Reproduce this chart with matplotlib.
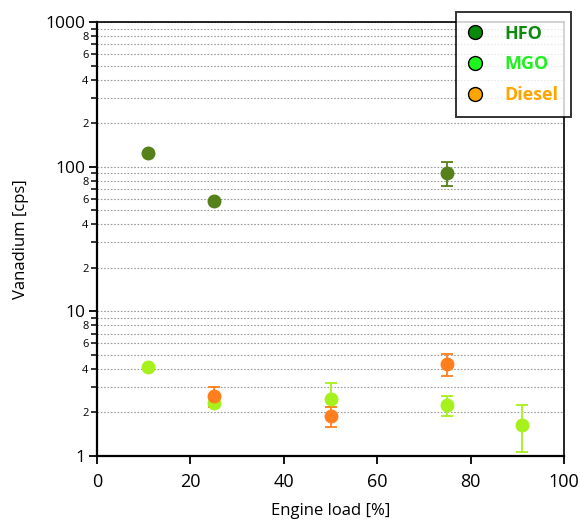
import numpy as np
import matplotlib
matplotlib.use("Agg")
import matplotlib.pyplot as plt
from matplotlib.ticker import LogLocator, FuncFormatter
from matplotlib.lines import Line2D

plt.rcParams['font.family'] = ['Open Sans', 'DejaVu Sans']

# data
hfo_load = [11, 25, 75]
hfo_val = [125, 58, 91]
hfo_lo = [0, 0, 18]
hfo_hi = [0, 0, 17]

mgo_load = [11, 25, 50, 75, 91]
mgo_val = [4.1, 2.34, 2.48, 2.25, 1.64]
mgo_lo = [0, 0.15, 0.3, 0.36, 0.58]
mgo_hi = [0, 0.15, 0.71, 0.36, 0.6]

diesel_load = [25, 50, 75]
diesel_val = [2.59, 1.88, 4.3]
diesel_lo = [0.41, 0.29, 0.71]
diesel_hi = [0.41, 0.29, 0.75]

series = [
    ("HFO", hfo_load, hfo_val, hfo_lo, hfo_hi, "#55801a", "#128a12"),
    ("MGO", mgo_load, mgo_val, mgo_lo, mgo_hi, "#a6f01c", "#1ff01f"),
    ("Diesel", diesel_load, diesel_val, diesel_lo, diesel_hi, "#ff7f1e", "#ffa500"),
]
legend_marker = {"HFO": "#0a8a0a", "MGO": "#1ef51e", "Diesel": "#ffa500"}

fig = plt.figure(figsize=(5.8, 5.21), dpi=100)
ax = fig.add_axes([97 / 580, 1 - 456 / 521, (564 - 97) / 580, (456 - 22) / 521])

for name, x, y, lo, hi, c, tc in series:
    ax.errorbar(x, y, yerr=[lo, hi], fmt="o", color=c, ms=9, mec=c,
                elinewidth=1.3, capsize=4.5, capthick=1.3, zorder=3)

ax.set_yscale("log")
ax.set_xlim(0, 100)
ax.set_ylim(1, 1000)
ax.set_xticks(np.arange(0, 101, 20))
ax.yaxis.set_major_locator(LogLocator(base=10))
ax.yaxis.set_minor_locator(LogLocator(base=10, subs=np.arange(2, 10)))


def minor_fmt(v, pos):
    m = round(v / 10 ** np.floor(np.log10(v) + 1e-9))
    return str(int(m)) if m in (2, 4, 6, 8) else ""


ax.yaxis.set_major_formatter(FuncFormatter(lambda v, p: f"{int(round(v))}"))
ax.yaxis.set_minor_formatter(FuncFormatter(minor_fmt))
ax.tick_params(axis="y", which="major", labelsize=12.5, length=6, width=1.3, pad=2)
ax.tick_params(axis="y", which="minor", labelsize=8, length=4, width=1.1, pad=2)
ax.tick_params(axis="x", labelsize=13, length=6, width=1.3, pad=6)

ax.grid(True, which="both", axis="y", color="#9a9a9a", ls=(0, (1.5, 1.5)), lw=0.8)
for s in ax.spines.values():
    s.set_linewidth(1.2)
ax.spines["left"].set_linewidth(1.6)
ax.spines["bottom"].set_linewidth(1.6)

ax.set_xlabel("Engine load [%]", fontsize=12, labelpad=9)
ax.set_ylabel("Vanadium [cps]", fontsize=12, labelpad=12)

handles = [Line2D([], [], ls="none", marker="o", ms=10, mfc=legend_marker[n],
                  mec="black", mew=1) for n, *_ in series]
leg = fig.legend(handles, [n for n, *_ in series], loc="upper right",
                 bbox_to_anchor=(571 / 580, 1 - 12 / 521), borderaxespad=0,
                 frameon=True, fancybox=False, edgecolor="black",
                 handlelength=0.8, handletextpad=1.2, labelspacing=0.7,
                 borderpad=0.7, prop={"weight": "bold", "size": 13})
leg.get_frame().set_linewidth(1.4)
for t, (n, *_rest) in zip(leg.get_texts(), series):
    t.set_color(_rest[-1])

fig.savefig("out.png", dpi=100)
